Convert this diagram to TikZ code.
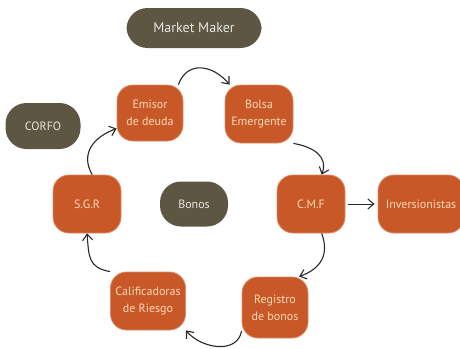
\documentclass[tikz,border=0pt]{standalone}
\usepackage{fontspec}
\setmainfont{PT Sans}
\usetikzlibrary{arrows.meta}
\definecolor{myorange}{RGB}{201,88,40}
\definecolor{myolive}{RGB}{93,86,66}
\definecolor{mycream}{RGB}{250,218,180}
\definecolor{mygrey}{RGB}{40,40,40}

\begin{document}
\begin{tikzpicture}[x=1pt,y=-1pt,
          obox/.style={fill=myorange,draw=myorange!70!white,line width=0.8pt,
                       rounded corners=16pt,minimum width=66pt,minimum height=57pt,
                       align=center,text=mycream,inner sep=1pt,
                       font=\fontsize{12}{17}\selectfont},
          gbox/.style={fill=myolive,rounded corners=21pt,minimum height=45pt,
                       align=center,text=white!85!myolive,
                       font=\fontsize{12}{17}\selectfont},
          flow/.style={-{Straight Barb[length=6pt,width=10pt]},line width=1.1pt,mygrey}]
        \useasboundingbox (0,0) rectangle (460,348);
        % dark boxes
        \node[gbox,minimum width=135pt,minimum height=40pt,
              font=\fontsize{14}{17}\selectfont](mm) at (194,28){Market Maker};
        \node[gbox,minimum width=75pt,minimum height=46pt](corfo) at (43,126){CORFO};
        \node[gbox,minimum width=68pt](bonos) at (194,204){Bonos};
        % orange boxes
        \node[obox,minimum height=56pt](emisor) at (150,113){Emisor\\de deuda};
        \node[obox,minimum width=68pt,minimum height=58pt](bolsa) at (259,114){Bolsa\\Emergente};
        \node[obox,minimum width=68pt,minimum height=58pt](sgr) at (87,204){S.G.R};
        \node[obox,minimum width=68pt,minimum height=58pt](cmf) at (311,204){C.M.F};
        \node[obox,minimum width=86pt,minimum height=58pt](inv) at (421,204){Inversionistas};
        \node[obox,minimum width=75pt,minimum height=58pt](calif) at (148,301){Calificadoras\\de Riesgo};
        \node[obox,minimum height=61pt](registro) at (275,307.5){Registro\\de bonos};
        % cycle
        \draw[flow](emisor.45) to[out=70,in=130,looseness=1.3] (bolsa.135);
        \draw[flow](bolsa.south east) to[out=-10,in=70,looseness=1.2] (cmf.70);
        \draw[flow](cmf.-70) to[out=-70,in=20,looseness=1.2] (registro.52);
        \draw[flow](registro.215) to[out=-100,in=-50,looseness=1.1] (calif.south east);
        \draw[flow](calif.north west) to[out=170,in=-85,looseness=1.3,shorten >=8pt] (sgr.south);
        \draw[flow](sgr.80) to[out=120,in=200,looseness=1.2] (emisor.205);
        \draw[flow,line width=1pt,shorten <=3pt,shorten >=3pt](cmf) -- (inv);
      \end{tikzpicture}
\end{document}
